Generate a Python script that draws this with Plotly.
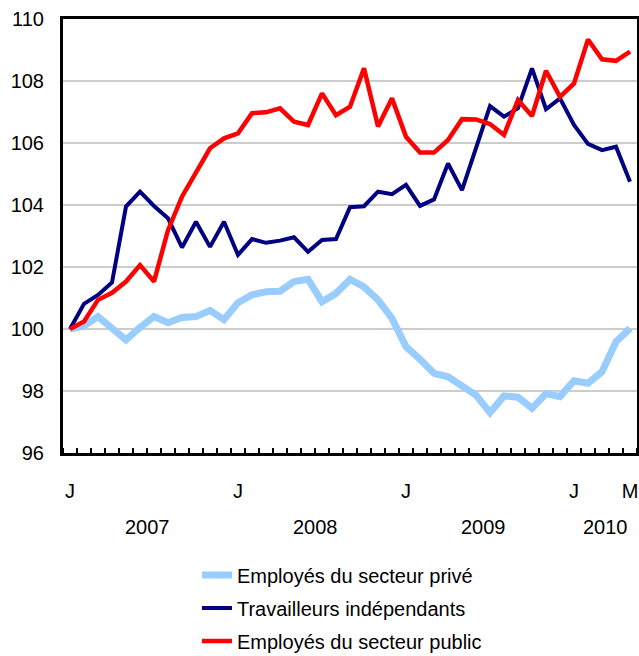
import plotly.graph_objects as go

months = [f"{y}-{m:02d}" for y in range(2007, 2011) for m in range(1, 13)][:41]
month_idx = list(range(len(months)))

prive = [100.0, 100.1, 100.4, 100.05, 99.65, 100.05, 100.4, 100.2, 100.37, 100.4,
         100.6, 100.3, 100.85, 101.1, 101.2, 101.22, 101.53, 101.6, 100.88, 101.15,
         101.6, 101.36, 100.94, 100.34, 99.43, 99.02, 98.57, 98.46, 98.14, 97.87,
         97.3, 97.84, 97.8, 97.44, 97.92, 97.82, 98.33, 98.25, 98.62, 99.59, 100.02]
independants = [100.0, 100.81, 101.1, 101.5, 103.95, 104.43, 103.97, 103.57, 102.63, 103.46,
                102.65, 103.46, 102.39, 102.9, 102.78, 102.85, 102.96, 102.49, 102.87, 102.9,
                103.93, 103.96, 104.43, 104.35, 104.65, 103.97, 104.18, 105.34, 104.48, 105.88,
                107.19, 106.85, 107.12, 108.41, 107.09, 107.44, 106.58, 105.97, 105.77, 105.88,
                104.75]
public = [100.0, 100.24, 100.94, 101.17, 101.53, 102.06, 101.53, 103.19, 104.27, 105.08,
          105.83, 106.15, 106.31, 106.96, 106.99, 107.12, 106.69, 106.58, 107.6, 106.9,
          107.17, 108.41, 106.53, 107.44, 106.2, 105.69, 105.69, 106.1, 106.77, 106.76,
          106.61, 106.26, 107.39, 106.87, 108.33, 107.49, 107.92, 109.34, 108.7, 108.65,
          108.95]

tick_pos = [0, 12, 24, 36, 40]
tick_text = ["J", "J", "J", "J", "M"]
year_labels = ["2007", "2008", "2009", "2010"]
year_pos = [5.5, 17.5, 29.5, 38.25]
y_ticks = [96, 98, 100, 102, 104, 106, 108, 110]

font_family = "Liberation Sans, Arial, sans-serif"

fig = go.Figure()
fig.add_trace(go.Scatter(x=month_idx, y=prive, mode="lines", name="Employés du secteur privé",
                         line=dict(color="#99CCFF", width=7), legendgroup="a"))
fig.add_trace(go.Scatter(x=month_idx, y=independants, mode="lines", name="Travailleurs indépendants",
                         line=dict(color="#000080", width=4), legendgroup="b"))
fig.add_trace(go.Scatter(x=month_idx, y=public, mode="lines", name="Employés du secteur public",
                         line=dict(color="#FF0000", width=4.5), legendgroup="c"))

for yl, yp in zip(year_labels, year_pos):
    fig.add_annotation(x=yp, y=-0.1705, xref="x", yref="paper", text=yl, showarrow=False,
                       font=dict(size=20, color="black", family=font_family),
                       xanchor="center", yanchor="middle")

fig.update_layout(
    width=639, height=656,
    margin=dict(l=63, r=2, t=19, b=203, autoexpand=False),
    paper_bgcolor="white", plot_bgcolor="white",
    font=dict(family=font_family, size=20, color="black"),
    showlegend=True,
    legend=dict(x=0.2334, y=-0.236, xanchor="left", yanchor="top",
                orientation="v", tracegroupgap=4, font=dict(size=20),
                bgcolor="rgba(0,0,0,0)"),
    xaxis=dict(range=[-0.5, 40.5], tickmode="array", tickvals=tick_pos, ticktext=tick_text,
               ticks="", showgrid=False, zeroline=False, showline=True, linecolor="black",
               linewidth=3, mirror=True, ticklabelstandoff=18,
               minor=dict(tickmode="linear", tick0=-0.5, dtick=1, ticks="inside",
                          ticklen=5, tickcolor="black", tickwidth=2, showgrid=False)),
    yaxis=dict(range=[96, 110], tickmode="array", tickvals=y_ticks, ticks="",
               showgrid=True, gridcolor="#cccccc", gridwidth=2, zeroline=False,
               showline=True, linecolor="black", linewidth=3, mirror=True,
               ticklabelstandoff=12),
)

post_js = ("document.body.style.margin='0';"
           "document.body.style.overflow='hidden';"
           "document.documentElement.style.overflow='hidden';")
fig.write_html("out.html", post_script=post_js, config={"displayModeBar": False})
